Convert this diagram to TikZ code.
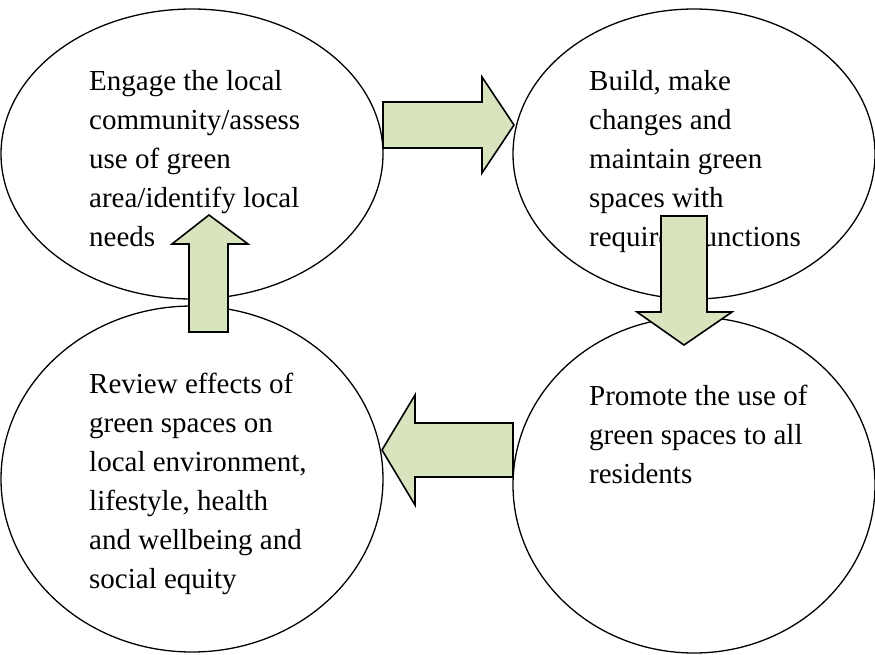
\documentclass[tikz,border=0pt]{standalone}
\usepackage{fontspec}
\setmainfont{Liberation Serif}
\usepackage{xcolor}
\usepackage{tikz}
\usetikzlibrary{shapes.geometric}

\definecolor{arrowgreen}{RGB}{215,228,189}

\tikzset{
    stage/.style={draw, ellipse, line width=1.3pt, inner sep=0pt},
    % base west sits on the baseline of the last line
    stagetext/.style={anchor=base west, inner sep=0pt, align=left,
        font=\fontsize{29}{39}\selectfont},
    blockarrow/.style={draw=black, fill=arrowgreen, line width=1.6pt, line join=miter}
}

\begin{document}
\begin{tikzpicture}[x=1pt, y=-1pt]
\useasboundingbox (0,0) rectangle (875,654);

% the four stages
\node[stage, minimum width=382pt, minimum height=290pt] (engage) at (192,154) {};
\node[stage, minimum width=362pt, minimum height=290pt] (build) at (694,154) {};
\node[stage, minimum width=382pt, minimum height=346pt] (review) at (192,479) {};
\node[stage, minimum width=362pt, minimum height=336pt] (promote) at (694,485) {};

\node[stagetext] (engagetxt) at (89,246)
    {Engage the local\\community/assess\\use of green\\area/identify local\\needs};
\node[stagetext] (buildtxt) at (589,246)
    {Build, make\\changes and\\maintain green\\spaces with\\required functions};
\node[stagetext] (reviewtxt) at (89,588)
    {Review effects of\\green spaces on\\local environment,\\lifestyle, health\\and wellbeing and\\social equity};
\node[stagetext] (promotetxt) at (589,483)
    {Promote the use of\\green spaces to all\\residents};

% block arrows between the stages
\filldraw[blockarrow] (383,102) -- (482,102) -- (482,77) -- (514,125)
    -- (482,173) -- (482,148) -- (383,148) -- cycle;
\filldraw[blockarrow] (661,216) -- (707,216) -- (707,312) -- (732,312)
    -- (684,345) -- (637,312) -- (661,312) -- cycle;
\filldraw[blockarrow] (513,423) -- (513,477) -- (415,477) -- (415,505)
    -- (382,450) -- (415,395) -- (415,423) -- cycle;
\filldraw[blockarrow] (189,332) -- (189,244) -- (172,244) -- (209,215)
    -- (248,244) -- (228,244) -- (228,332) -- cycle;
\end{tikzpicture}
\end{document}
